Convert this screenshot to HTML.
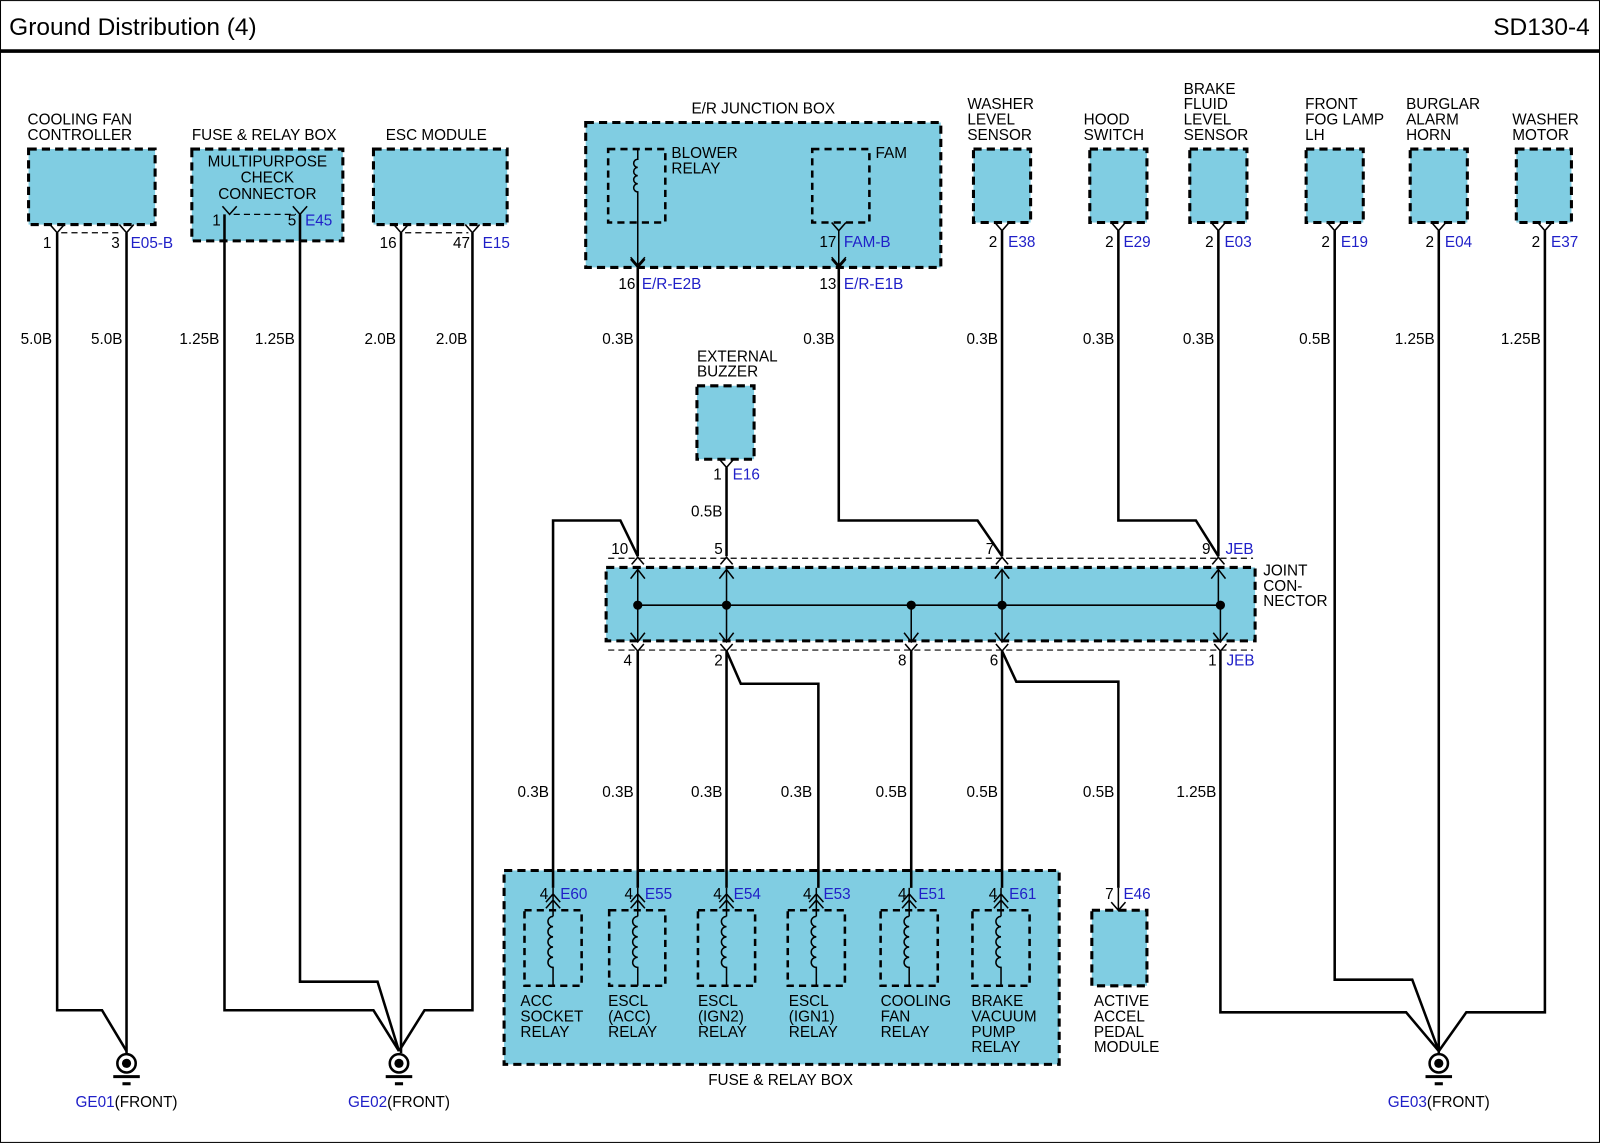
<!DOCTYPE html>
<html><head><meta charset="utf-8"><style>
html,body{margin:0;padding:0;background:#fff}
svg{display:block}
text{font-family:"Liberation Sans",Arial,sans-serif;font-size:15px;fill:#000}
.b{fill:#2020c8}
.bx{fill:#80cde2;stroke:#000;stroke-width:3;stroke-dasharray:8 5}
.ib{fill:none;stroke:#000;stroke-width:2.5;stroke-dasharray:7 5}
.w{fill:none;stroke:#000;stroke-width:2.5}
.t{fill:none;stroke:#000;stroke-width:1.5}
.d{fill:none;stroke:#000;stroke-width:1.2;stroke-dasharray:6 4}
</style></head><body>
<svg width="1600" height="1143" viewBox="0 0 1568 1120" xmlns="http://www.w3.org/2000/svg">
<rect x="0.5" y="0.5" width="1567" height="1119" fill="#fff" stroke="#000" stroke-width="1"/>
<text x="9" y="34" style="font-size:24px">Ground Distribution (4)</text>
<text x="1558" y="34" text-anchor="end" style="font-size:24px">SD130-4</text>
<line x1="0" y1="50" x2="1568" y2="50" stroke="#000" stroke-width="3.5"/>

<!-- boxes -->
<rect class="bx" x="28" y="146" width="124" height="74"/>
<rect class="bx" x="188" y="146" width="148" height="90"/>
<rect class="bx" x="366" y="146" width="131" height="74"/>
<rect class="bx" x="574" y="120" width="348" height="142"/>
<rect class="ib" x="596" y="146" width="56" height="72"/>
<rect class="ib" x="796" y="146" width="56" height="72"/>
<rect class="bx" x="954" y="146" width="56" height="72"/>
<rect class="bx" x="1068" y="146" width="56" height="72"/>
<rect class="bx" x="1166" y="146" width="56" height="72"/>
<rect class="bx" x="1280" y="146" width="56" height="72"/>
<rect class="bx" x="1382" y="146" width="56" height="72"/>
<rect class="bx" x="1486" y="146" width="54" height="72"/>
<rect class="bx" x="683" y="378" width="56" height="72"/>
<rect class="bx" x="594" y="556" width="636" height="72"/>
<rect class="bx" x="494" y="853" width="544" height="190"/>
<rect class="ib" x="514" y="892" width="56" height="74"/>
<rect class="ib" x="597" y="892" width="55" height="74"/>
<rect class="ib" x="684" y="892" width="56" height="74"/>
<rect class="ib" x="772" y="892" width="56" height="74"/>
<rect class="ib" x="863" y="892" width="56" height="74"/>
<rect class="ib" x="953" y="892" width="56" height="74"/>
<rect class="bx" x="1070" y="892" width="54" height="74"/>

<!-- component labels -->
<text x="27" y="122">COOLING FAN</text><text x="27" y="137">CONTROLLER</text>
<text x="188" y="137">FUSE &amp; RELAY BOX</text>
<text x="262" y="163" text-anchor="middle">MULTIPURPOSE</text>
<text x="262" y="179" text-anchor="middle">CHECK</text>
<text x="262" y="195" text-anchor="middle">CONNECTOR</text>
<text x="378" y="137">ESC MODULE</text>
<text x="748" y="111" text-anchor="middle">E/R JUNCTION BOX</text>
<text x="658" y="155">BLOWER</text><text x="658" y="170">RELAY</text>
<text x="858" y="155">FAM</text>
<text x="948" y="107">WASHER</text><text x="948" y="122">LEVEL</text><text x="948" y="137">SENSOR</text>
<text x="1062" y="122">HOOD</text><text x="1062" y="137">SWITCH</text>
<text x="1160" y="92">BRAKE</text><text x="1160" y="107">FLUID</text><text x="1160" y="122">LEVEL</text><text x="1160" y="137">SENSOR</text>
<text x="1279" y="107">FRONT</text><text x="1279" y="122">FOG LAMP</text><text x="1279" y="137">LH</text>
<text x="1378" y="107">BURGLAR</text><text x="1378" y="122">ALARM</text><text x="1378" y="137">HORN</text>
<text x="1482" y="122">WASHER</text><text x="1482" y="137">MOTOR</text>
<text x="683" y="354">EXTERNAL</text><text x="683" y="369">BUZZER</text>
<text x="1238" y="564">JOINT</text><text x="1238" y="579">CON-</text><text x="1238" y="594">NECTOR</text>
<text x="765" y="1063" text-anchor="middle">FUSE &amp; RELAY BOX</text>
<g>
<text x="510" y="986">ACC</text><text x="510" y="1001">SOCKET</text><text x="510" y="1016">RELAY</text>
<text x="596" y="986">ESCL</text><text x="596" y="1001">(ACC)</text><text x="596" y="1016">RELAY</text>
<text x="684" y="986">ESCL</text><text x="684" y="1001">(IGN2)</text><text x="684" y="1016">RELAY</text>
<text x="773" y="986">ESCL</text><text x="773" y="1001">(IGN1)</text><text x="773" y="1016">RELAY</text>
<text x="863" y="986">COOLING</text><text x="863" y="1001">FAN</text><text x="863" y="1016">RELAY</text>
<text x="952" y="986">BRAKE</text><text x="952" y="1001">VACUUM</text><text x="952" y="1016">PUMP</text><text x="952" y="1031">RELAY</text>
<text x="1072" y="986">ACTIVE</text><text x="1072" y="1001">ACCEL</text><text x="1072" y="1016">PEDAL</text><text x="1072" y="1031">MODULE</text>
</g>

<!-- pin symbols -->
<g class="t">
<path d="M49 220 L56 228 L63 220 M117 220 L124 228 L131 220"/>
<path d="M218 202 L225 210 L232 202 M287 202 L294 210 L301 202"/>
<path d="M386 220 L393 228 L400 220 M456 220 L463 228 L470 220"/>
<path d="M815 218 L822 226 L829 218"/>
<path d="M618 254 L625 262 L632 254 M815 254 L822 262 L829 254"/>
<path d="M975 218 L982 226 L989 218 M1089 218 L1096 226 L1103 218 M1187 218 L1194 226 L1201 218 M1301 218 L1308 226 L1315 218 M1403 218 L1410 226 L1417 218 M1507 218 L1514 226 L1521 218"/>
<path d="M705 450 L712 458 L719 450"/>
</g>
<g class="d">
<line x1="60" y1="228" x2="120" y2="228"/>
<line x1="229" y1="210" x2="290" y2="210"/>
<line x1="397" y1="228" x2="459" y2="228"/>
<line x1="596" y1="547" x2="1228" y2="547"/>
<line x1="596" y1="637" x2="1228" y2="637"/>
</g>
<g class="t">
<path d="M625 146 V156 a4 4 0 0 0 0 8 a4 4 0 0 0 0 8 a4 4 0 0 0 0 8 a4 4 0 0 0 0 8 V262 M618 252 L625 260 L632 252"/>
<path d="M822 226 V262 M815 252 L822 260 L829 252"/>
</g>

<!-- pin numbers -->
<g>
<text x="42" y="243">1</text><text x="109" y="243">3</text><text class="b" x="128" y="243">E05-B</text>
<text x="208" y="221">1</text><text x="282" y="221">5</text><text class="b" x="299" y="221">E45</text>
<text x="372" y="243">16</text><text x="444" y="243">47</text><text class="b" x="473" y="243">E15</text>
<text x="803" y="242">17</text><text class="b" x="827" y="242">FAM-B</text>
<text x="606" y="283">16</text><text class="b" x="629" y="283">E/R-E2B</text>
<text x="803" y="283">13</text><text class="b" x="827" y="283">E/R-E1B</text>
<text x="969" y="242">2</text><text class="b" x="988" y="242">E38</text>
<text x="1083" y="242">2</text><text class="b" x="1101" y="242">E29</text>
<text x="1181" y="242">2</text><text class="b" x="1200" y="242">E03</text>
<text x="1295" y="242">2</text><text class="b" x="1314" y="242">E19</text>
<text x="1397" y="242">2</text><text class="b" x="1416" y="242">E04</text>
<text x="1501" y="242">2</text><text class="b" x="1520" y="242">E37</text>
<text x="699" y="470">1</text><text class="b" x="718" y="470">E16</text>
<text x="599" y="543">10</text><text x="700" y="543">5</text><text x="966" y="543">7</text><text x="1178" y="543">9</text><text class="b" x="1201" y="543">JEB</text>
<text x="611" y="652">4</text><text x="700" y="652">2</text><text x="880" y="652">8</text><text x="970" y="652">6</text><text x="1184" y="652">1</text><text class="b" x="1202" y="652">JEB</text>
<text x="529" y="881">4</text><text class="b" x="549" y="881">E60</text>
<text x="612" y="881">4</text><text class="b" x="632" y="881">E55</text>
<text x="699" y="881">4</text><text class="b" x="719" y="881">E54</text>
<text x="787" y="881">4</text><text class="b" x="807" y="881">E53</text>
<text x="880" y="881">4</text><text class="b" x="900" y="881">E51</text>
<text x="969" y="881">4</text><text class="b" x="989" y="881">E61</text>
<text x="1083" y="881">7</text><text class="b" x="1101" y="881">E46</text>
</g>

<!-- wire sizes -->
<g text-anchor="end">
<text x="51" y="337">5.0B</text><text x="120" y="337">5.0B</text>
<text x="215" y="337">1.25B</text><text x="289" y="337">1.25B</text>
<text x="388" y="337">2.0B</text><text x="458" y="337">2.0B</text>
<text x="621" y="337">0.3B</text><text x="818" y="337">0.3B</text>
<text x="978" y="337">0.3B</text><text x="1092" y="337">0.3B</text><text x="1190" y="337">0.3B</text>
<text x="1304" y="337">0.5B</text><text x="1406" y="337">1.25B</text><text x="1510" y="337">1.25B</text>
<text x="708" y="506">0.5B</text>
<text x="538" y="781">0.3B</text><text x="621" y="781">0.3B</text><text x="708" y="781">0.3B</text><text x="796" y="781">0.3B</text>
<text x="889" y="781">0.5B</text><text x="978" y="781">0.5B</text><text x="1092" y="781">0.5B</text><text x="1192" y="781">1.25B</text>
</g>

<!-- wires -->
<g class="w">
<path d="M56 228 V990 H100 L124 1030"/>
<path d="M124 228 V1032"/>
<path d="M220 210 V990 H366 L391 1030"/>
<path d="M294 210 V962 H370 L391 1030"/>
<path d="M393 228 V1032"/>
<path d="M463 228 V990 H416 L391 1030"/>
<path d="M625 262 V545"/>
<path d="M822 262 V510 H958 L982 545"/>
<path d="M982 226 V545"/>
<path d="M1096 226 V510 H1172 L1194 545"/>
<path d="M1194 226 V545"/>
<path d="M712 458 V545"/>
<path d="M542 870 V510 H608 L625 545"/>
<path d="M625 638 V870"/>
<path d="M712 638 V870"/>
<path d="M712 638 L726 670 H802 V870"/>
<path d="M893 638 V870"/>
<path d="M982 638 V870"/>
<path d="M982 638 L996 668 H1096 V870"/>
<path d="M1196 638 V992 H1378 L1410 1030"/>
<path d="M1308 226 V960 H1384 L1410 1030"/>
<path d="M1410 226 V1032"/>
<path d="M1514 226 V992 H1437 L1410 1030"/>
</g>

<!-- joint connector internals -->
<g class="t">
<line x1="625" y1="593" x2="1196" y2="593"/>
<path d="M625 558 V629 M712 558 V629 M893 593 V629 M982 558 V629 M1194 558 V593 M1196 593 V629"/>
<path d="M618 567 L625 558 L632 567 M705 567 L712 558 L719 567 M975 567 L982 558 L989 567 M1187 567 L1194 558 L1201 567"/>
<path d="M618 620 L625 629 L632 620 M705 620 L712 629 L719 620 M886 620 L893 629 L900 620 M975 620 L982 629 L989 620 M1189 620 L1196 629 L1203 620"/>
<path d="M619 553 L625 546 L631 553 M706 553 L712 546 L718 553 M976 553 L982 546 L988 553 M1188 553 L1194 546 L1200 553"/>
<path d="M619 631 L625 638 L631 631 M706 631 L712 638 L718 631 M887 631 L893 638 L899 631 M976 631 L982 638 L988 631 M1190 631 L1196 638 L1202 631"/>
</g>
<g fill="#000">
<circle cx="625" cy="593" r="4.5"/><circle cx="712" cy="593" r="4.5"/><circle cx="893" cy="593" r="4.5"/><circle cx="982" cy="593" r="4.5"/><circle cx="1196" cy="593" r="4.5"/>
</g>

<!-- relay internals -->
<g class="t">
<path d="M542 870 V898 M535 884 L542 876 L549 884 M535 890 L542 882 L549 890 M542 898 a5 5 0 0 0 0 10 a5 5 0 0 0 0 10 a5 5 0 0 0 0 10 a5 5 0 0 0 0 10 a5 5 0 0 0 0 10 V966"/>
<path d="M625 870 V898 M618 884 L625 876 L632 884 M618 890 L625 882 L632 890 M625 898 a5 5 0 0 0 0 10 a5 5 0 0 0 0 10 a5 5 0 0 0 0 10 a5 5 0 0 0 0 10 a5 5 0 0 0 0 10 V966"/>
<path d="M712 870 V898 M705 884 L712 876 L719 884 M705 890 L712 882 L719 890 M712 898 a5 5 0 0 0 0 10 a5 5 0 0 0 0 10 a5 5 0 0 0 0 10 a5 5 0 0 0 0 10 a5 5 0 0 0 0 10 V966"/>
<path d="M800 870 V898 M793 884 L800 876 L807 884 M793 890 L800 882 L807 890 M800 898 a5 5 0 0 0 0 10 a5 5 0 0 0 0 10 a5 5 0 0 0 0 10 a5 5 0 0 0 0 10 a5 5 0 0 0 0 10 V966"/>
<path d="M891 870 V898 M884 884 L891 876 L898 884 M884 890 L891 882 L898 890 M891 898 a5 5 0 0 0 0 10 a5 5 0 0 0 0 10 a5 5 0 0 0 0 10 a5 5 0 0 0 0 10 a5 5 0 0 0 0 10 V966"/>
<path d="M981 870 V898 M974 884 L981 876 L988 884 M974 890 L981 882 L988 890 M981 898 a5 5 0 0 0 0 10 a5 5 0 0 0 0 10 a5 5 0 0 0 0 10 a5 5 0 0 0 0 10 a5 5 0 0 0 0 10 V966"/>
<path d="M1096 870 V892 M1089 884 L1096 892 L1103 884"/>
</g>

<!-- grounds -->
<g>
<g transform="translate(124,0)"><circle cx="0" cy="1042" r="9" fill="#fff" stroke="#000" stroke-width="2.5"/><circle cx="0" cy="1042" r="4.5"/><line x1="-13" y1="1055" x2="13" y2="1055" stroke="#000" stroke-width="3"/><line x1="-4" y1="1062" x2="4" y2="1062" stroke="#000" stroke-width="3"/></g>
<g transform="translate(391,0)"><circle cx="0" cy="1042" r="9" fill="#fff" stroke="#000" stroke-width="2.5"/><circle cx="0" cy="1042" r="4.5"/><line x1="-13" y1="1055" x2="13" y2="1055" stroke="#000" stroke-width="3"/><line x1="-4" y1="1062" x2="4" y2="1062" stroke="#000" stroke-width="3"/></g>
<g transform="translate(1410,0)"><circle cx="0" cy="1042" r="9" fill="#fff" stroke="#000" stroke-width="2.5"/><circle cx="0" cy="1042" r="4.5"/><line x1="-13" y1="1055" x2="13" y2="1055" stroke="#000" stroke-width="3"/><line x1="-4" y1="1062" x2="4" y2="1062" stroke="#000" stroke-width="3"/></g>
<text x="124" y="1085" text-anchor="middle"><tspan class="b">GE01</tspan>(FRONT)</text>
<text x="391" y="1085" text-anchor="middle"><tspan class="b">GE02</tspan>(FRONT)</text>
<text x="1410" y="1085" text-anchor="middle"><tspan class="b">GE03</tspan>(FRONT)</text>
</g>
</svg>
</body></html>
